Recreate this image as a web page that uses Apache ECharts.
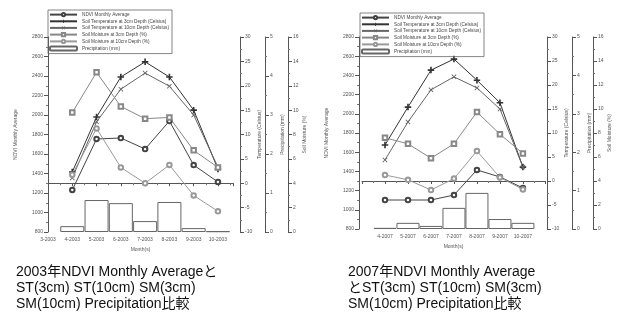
<!DOCTYPE html>
<html>
<head>
<meta charset="utf-8">
<script src="https://cdn.jsdelivr.net/npm/echarts@6/dist/echarts.min.js"></script>
<style>
  html, body { margin: 0; padding: 0; background: #fff; }
  #chart { width: 619px; height: 322px; }
</style>
</head>
<body>
<div id="chart"></div>
<script>
// ---- data ----
const tickMonths2003 = [3, 4, 5, 6, 7, 8, 9, 10];
const tickLabels2003 = ['3-2003', '4-2003', '5-2003', '6-2003', '7-2003', '8-2003', '9-2003', '10-2003'];
const tickMonths2007 = [4, 5, 6, 7, 8, 9, 10];
const tickLabels2007 = ['4-2007', '5-2007', '6-2007', '7-2007', '8-2007', '9-2007', '10-2007'];
const dataMonths = [4, 5, 6, 7, 8, 9, 10];

const ndvi2003 = [1231, 1754, 1764, 1651, 1938, 1487, 1313];
const st3cm2003 = [2.3, 13.6, 21.8, 24.9, 21.8, 15.0, 2.9];
const st10cm2003 = [1.1, 12.6, 19.3, 22.6, 19.9, 14.0, 3.3];
const sm3cm2003 = [9.8, 13.1, 10.3, 9.3, 9.4, 6.7, 5.3];
const sm10cm2003 = [4.7, 8.5, 5.3, 4.0, 5.5, 3.0, 1.7];
const precip2003 = [0.15, 0.82, 0.74, 0.28, 0.77, 0.10, 0.02];

const ndvi2007 = [1102, 1102, 1102, 1154, 1415, 1342, 1227];
const st3cm2007 = [7.5, 15.4, 23.1, 25.4, 21.0, 16.3, 2.9];
const st10cm2007 = [4.4, 12.3, 19.0, 21.7, 19.4, 15.0, 2.9];
const sm3cm2007 = [7.6, 7.1, 5.9, 7.1, 9.75, 7.9, 6.3];
const sm10cm2007 = [4.5, 4.1, 3.25, 4.2, 6.5, 4.3, 3.3];
const precip2007 = [0.03, 0.16, 0.08, 0.55, 0.94, 0.26, 0.16];

const seriesNames = [
  'NDVI Monthly Average',
  'Soil Temperature at 3cm Depth (Celsius)',
  'Soil Temperature at 10cm Depth (Celsius)',
  'Soil Moisture at 3cm Depth (%)',
  'Soil Moisture at 10cm Depth (%)',
  'Precipitation (mm)'
];
const captions = [
  '2003年NDVI Monthly Averageと\nST(3cm) ST(10cm) SM(3cm)\nSM(10cm) Precipitation比較',
  '2007年NDVI Monthly Average\nとST(3cm) ST(10cm) SM(3cm)\nSM(10cm) Precipitation比較'
];

// ---- styling helpers ----
const FONT = "'Liberation Sans', Arial, sans-serif";
const SMALL = { fontFamily: FONT, fontSize: 5, color: '#555' };
const AXIS_LINE = { show: true, lineStyle: { color: '#555', width: 1 } };
const plain = v => String(v);

const plusSymbol = 'path://M-1,-4H1V-1H4V1H1V4H-1V1H-4V-1H-1Z';
const crossSymbol = 'path://M-4,-3L-3,-4L0,-1L3,-4L4,-3L1,0L4,3L3,4L0,1L-3,4L-4,3L-1,0Z';

const lineStyles = [
  { color: '#444', symbol: 'emptyCircle', size: 4.5 },
  { color: '#333', symbol: plusSymbol, size: 6.5 },
  { color: '#666', symbol: crossSymbol, size: 5 },
  { color: '#888', symbol: 'emptyRect', size: 4.5 },
  { color: '#999', symbol: 'emptyCircle', size: 4.5 }
];

function pairs(values) {
  return dataMonths.map((m, i) => [m, values[i]]);
}

function valueAxis(gridIndex, position, offset, min, max, interval, name, nameGap) {
  return {
    gridIndex, type: 'value', position, offset, min, max, interval,
    name, nameLocation: 'middle', nameGap, nameTextStyle: SMALL,
    axisLine: AXIS_LINE,
    axisTick: { show: true, length: 4, lineStyle: { color: '#555' } },
    minorTick: { show: true, splitNumber: 2, length: 2, lineStyle: { color: '#777' } },
    axisLabel: Object.assign({ margin: 5, formatter: plain }, SMALL),
    splitLine: { show: false }
  };
}

function yAxes(gridIndex, offsets) {
  return [
    valueAxis(gridIndex, 'left', offsets[0], 800, 2800, 200, 'NDVI Monthly Average', 30),
    valueAxis(gridIndex, 'right', offsets[1], -10, 30, 5, 'Temperature (Celsius)', 17),
    valueAxis(gridIndex, 'right', offsets[2], 0, 5, 1, 'Precipitation (mm)', 15),
    valueAxis(gridIndex, 'right', offsets[3], 0, 16, 2, 'Soil Moisture (%)', 14)
  ];
}

function xAxis(gridIndex, months, labels, max) {
  return {
    gridIndex, type: 'value', min: 3, max: max, interval: 1,
    name: 'Month(s)', nameLocation: 'middle', nameGap: 12, nameTextStyle: SMALL,
    axisLine: AXIS_LINE, axisTick: { show: true, length: 3, lineStyle: { color: '#555' } },
    minorTick: { show: true, splitNumber: 2, length: 2, lineStyle: { color: '#777' } },
    splitLine: { show: false },
    axisLabel: Object.assign({
      margin: 5,
      showMaxLabel: false,
      formatter: v => {
        const i = months.indexOf(v);
        return i >= 0 ? labels[i] : '';
      }
    }, SMALL)
  };
}

function chartSeries(axisBase, xIndex, values, barWidth) {
  const [ndvi, st3, st10, sm3, sm10, precip] = values;
  const out = [{
    name: seriesNames[5], type: 'bar', xAxisIndex: xIndex, yAxisIndex: axisBase + 2,
    barWidth: barWidth, data: pairs(precip),
    itemStyle: { color: '#fff', borderColor: '#666', borderWidth: 1 }
  }];
  const lineData = [ndvi, st3, st10, sm3, sm10];
  const axisFor = [0, 1, 1, 3, 3];
  lineData.forEach((d, k) => {
    const st = lineStyles[k];
    out.push({
      name: seriesNames[k], type: 'line', xAxisIndex: xIndex, yAxisIndex: axisBase + axisFor[k],
      data: pairs(d), symbol: st.symbol, symbolSize: st.size, showAllSymbol: true,
      lineStyle: { color: st.color, width: 1 },
      itemStyle: { color: st.color, borderWidth: 1 },
      z: 3
    });
  });
  return out;
}

function legend(left, top) {
  return {
    left, top, orient: 'vertical', data: seriesNames,
    itemWidth: 27, itemHeight: 4, itemGap: 1.6,
    padding: [2, 3, 2, 1], borderColor: '#666', borderWidth: 0.8,
    textStyle: { fontFamily: FONT, fontSize: 4.7, color: '#444', lineHeight: 4 },
    selectedMode: false
  };
}

const chart = echarts.init(document.getElementById('chart'), null, { renderer: 'canvas' });

chart.setOption({
  animation: false,
  backgroundColor: '#fff',
  grid: [
    { left: 48, top: 37, width: 185, height: 195 },
    { left: 362, top: 37, width: 183, height: 192 }
  ],
  xAxis: [xAxis(0, tickMonths2003, tickLabels2003, 10.62), xAxis(1, tickMonths2007, tickLabels2007, 10.96)],
  yAxis: yAxes(0, [0, 7, 32, 55]).concat(yAxes(1, [3, 2, 27, 48])),
  legend: [legend(48, 10), legend(360, 13)],
  series: chartSeries(0, 0, [ndvi2003, st3cm2003, st10cm2003, sm3cm2003, sm10cm2003, precip2003], 24)
    .concat(chartSeries(4, 1, [ndvi2007, st3cm2007, st10cm2007, sm3cm2007, sm10cm2007, precip2007], 23)),
  graphic: [
    { type: 'text', left: 16, top: 264, style: { text: captions[0], fontFamily: "'Liberation Sans', 'Noto Sans CJK JP', sans-serif", fontSize: 14, lineHeight: 16, fill: '#111' } },
    { type: 'text', left: 348, top: 264, style: { text: captions[1], fontFamily: "'Liberation Sans', 'Noto Sans CJK JP', sans-serif", fontSize: 14, lineHeight: 16, fill: '#111' } }
  ]
});
</script>
</body>
</html>
